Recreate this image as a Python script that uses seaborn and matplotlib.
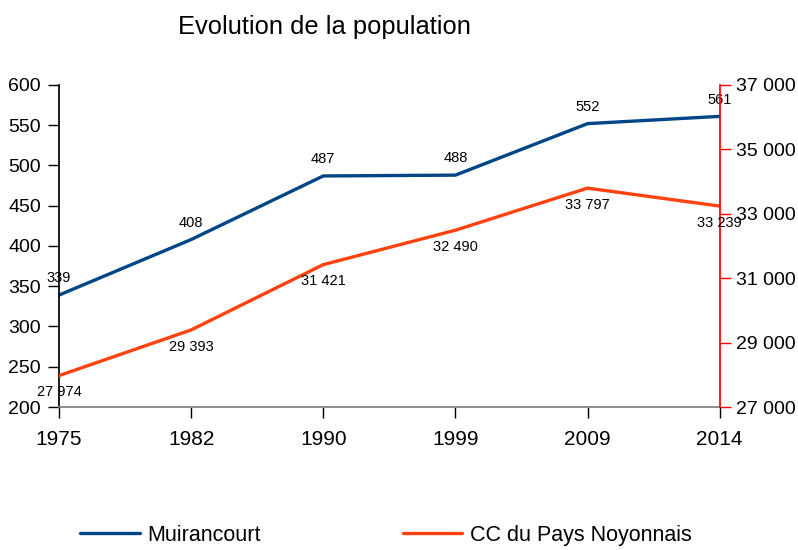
import matplotlib
matplotlib.use("Agg")
import matplotlib.pyplot as plt
from matplotlib.ticker import FuncFormatter
import pandas as pd
import seaborn as sns

years = ["1975", "1982", "1990", "1999", "2009", "2014"]
muirancourt = [339, 408, 487, 488, 552, 561]
cc_noyonnais = [27974, 29393, 31421, 32490, 33797, 33239]

BLUE = "#004586"
ORANGE = "#ff420e"


def fmt(v):
    return f"{v:,.0f}".replace(",", " ")


sns.set_theme(style="white")
plt.rcParams["font.family"] = ["Liberation Sans", "DejaVu Sans"]
plt.rcParams["text.color"] = "black"

df = pd.DataFrame({"pos": range(len(years)), "year": years,
                   "Muirancourt": muirancourt, "CC du Pays Noyonnais": cc_noyonnais})

fig = plt.figure(figsize=(7.98, 5.5), dpi=100)
ax = fig.add_axes([0.0739, 0.26, 0.828, 0.5855])
ax2 = ax.twinx()

sns.lineplot(data=df, x="pos", y="Muirancourt", ax=ax, color=BLUE, linewidth=2.4,
             label="Muirancourt", legend=False)
sns.lineplot(data=df, x="pos", y="CC du Pays Noyonnais", ax=ax2, color=ORANGE, linewidth=2.4,
             label="CC du Pays Noyonnais", legend=False)

for x, v in zip(df["pos"], muirancourt):
    ax.annotate(fmt(v), (x, v), xytext=(0, 12), textcoords="offset points",
                ha="center", va="center", fontsize=10.5, color="black")
for x, v in zip(df["pos"], cc_noyonnais):
    ax2.annotate(fmt(v), (x, v), xytext=(0, -12), textcoords="offset points",
                 ha="center", va="center", fontsize=10.5, color="black")

ax.set_xlim(0, len(years) - 1)
ax.set_ylim(200, 600)
ax2.set_ylim(27000, 37000)
ax.set_xticks(df["pos"])
ax.set_xticklabels(years)
ax.set_yticks(range(200, 601, 50))
ax2.set_yticks(range(27000, 37001, 2000))
ax2.yaxis.set_major_formatter(FuncFormatter(lambda v, p: fmt(v)))
ax.set_xlabel("")
ax.set_ylabel("")
ax2.set_ylabel("")

for a in (ax, ax2):
    for s in a.spines.values():
        s.set_visible(False)
ax.spines["left"].set_visible(True)
ax.spines["left"].set_color("black")
ax.spines["bottom"].set_visible(True)
ax.spines["bottom"].set_color("#808080")
ax2.spines["right"].set_visible(True)
ax2.spines["right"].set_color("red")

ax.tick_params(axis="y", direction="out", length=8, width=1, color="black",
               labelcolor="black", labelsize=14, pad=5, left=True)
ax.tick_params(axis="x", direction="out", length=8, width=1, color="black",
               labelcolor="black", labelsize=15, pad=8.5, bottom=True)
ax2.tick_params(axis="y", direction="out", length=8, width=1, color="red",
                labelcolor="black", labelsize=14, pad=4, right=True)

fig.text(0.407, 0.951, "Evolution de la population", ha="center", va="center", fontsize=18.4)

h1, l1 = ax.get_legend_handles_labels()
h2, l2 = ax2.get_legend_handles_labels()
fig.legend(h1 + h2, l1 + l2, loc="center left", bbox_to_anchor=(0.09, 0.027), ncol=2,
           frameon=False, fontsize=15.5, handlelength=2.75, handletextpad=0.37,
           columnspacing=6.6, borderpad=0.2, borderaxespad=0.2)

fig.savefig("out.png", dpi=100)
